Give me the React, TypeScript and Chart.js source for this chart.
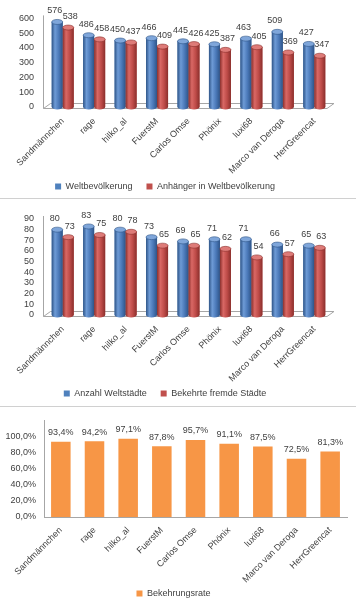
import React, { useEffect, useRef } from 'react';
import { Chart, registerables } from 'chart.js';
Chart.register(...registerables);

const players = ['Sandmännchen', 'rage', 'hilko_al', 'FuerstM', 'Carlos Omse', 'Phönix', 'luxi68', 'Marco van Deroga', 'HerrGreencat'];
const weltbevoelkerung = [576, 486, 450, 466, 445, 425, 463, 509, 427];
const anhaenger = [538, 458, 437, 409, 426, 387, 405, 369, 347];
const weltstaedte = [80, 83, 80, 73, 69, 71, 71, 66, 65];
const bekehrteStaedte = [73, 75, 78, 65, 65, 62, 54, 57, 63];
const bekehrungsrate = [0.934, 0.942, 0.971, 0.878, 0.957, 0.911, 0.875, 0.725, 0.813];

const FONT = '"Liberation Sans", Arial, sans-serif';
const TXT = '#404040';
const BLUE = '#4F81BD';
const RED = '#C0504D';
const ORANGE = '#F79646';
const blueShades = { dark: '#2E5487', light: '#6E9BD6', mid: '#4A78B8', top: '#7FA6DA' };
const redShades = { dark: '#8A2F2C', light: '#D96865', mid: '#BE4B48', top: '#DE7B78' };

const fmtPct = (v: number) => (v * 100).toFixed(1).replace('.', ',') + '%';

const floor3d = {
  id: 'floor3d',
  beforeDatasetsDraw(chart: any, _a: any, opts: any) {
    if (!opts || !opts.enabled) return;
    const { left, right, top, bottom } = chart.chartArea;
    const ctx = chart.ctx;
    ctx.save();
    ctx.strokeStyle = '#A6A6A6';
    ctx.lineWidth = 1;
    const x0 = Math.round(left - 4) + 0.5;
    const yb = Math.round(bottom + 1) + 0.5;
    ctx.beginPath();
    ctx.moveTo(x0, top - 3);
    ctx.lineTo(x0, yb);
    ctx.lineTo(right - 3, yb);
    ctx.lineTo(right + 4, yb - 5);
    ctx.lineTo(x0 + 7, yb - 5);
    ctx.lineTo(x0, yb);
    ctx.stroke();
    ctx.restore();
  },
};

const cylinders = {
  id: 'cylinders',
  afterDatasetsDraw(chart: any, _a: any, opts: any) {
    if (!opts || !opts.enabled) return;
    const ctx = chart.ctx;
    chart.data.datasets.forEach((_ds: any, di: number) => {
      const meta = chart.getDatasetMeta(di);
      const sh = opts.shades[di];
      meta.data.forEach((el: any) => {
        const { x, y, base, width } = el.getProps(['x', 'y', 'base', 'width'], true);
        const l = x - width / 2;
        const r = x + width / 2;
        const ry = opts.ry;
        const g = ctx.createLinearGradient(l, 0, r, 0);
        g.addColorStop(0, sh.dark);
        g.addColorStop(0.3, sh.light);
        g.addColorStop(0.65, sh.mid);
        g.addColorStop(1, sh.dark);
        ctx.save();
        ctx.fillStyle = g;
        ctx.beginPath();
        ctx.moveTo(l, y);
        ctx.lineTo(l, base);
        ctx.ellipse(x, base, width / 2, ry, 0, Math.PI, 0, true);
        ctx.lineTo(r, y);
        ctx.closePath();
        ctx.fill();
        ctx.beginPath();
        ctx.ellipse(x, y, width / 2, ry, 0, 0, Math.PI * 2);
        ctx.fillStyle = sh.top;
        ctx.fill();
        ctx.strokeStyle = sh.dark;
        ctx.lineWidth = 0.6;
        ctx.stroke();
        ctx.restore();
      });
    });
  },
};

const valueLabels = {
  id: 'valueLabels',
  afterDatasetsDraw(chart: any, _a: any, opts: any) {
    if (!opts || !opts.fmt) return;
    const ctx = chart.ctx;
    ctx.save();
    ctx.font = `9px ${FONT}`;
    ctx.fillStyle = TXT;
    ctx.textAlign = 'center';
    ctx.textBaseline = 'middle';
    chart.data.datasets.forEach((ds: any, di: number) => {
      const meta = chart.getDatasetMeta(di);
      const dx = opts.dx ? opts.dx[di] : 0;
      meta.data.forEach((el: any, i: number) => {
        ctx.fillText(opts.fmt(ds.data[i]), el.x + dx, el.y - opts.offset);
      });
    });
    ctx.restore();
  },
};

const xFit = (h: number) => (s: any) => {
  s.height = h;
  s._computeLabelArea = () => undefined;
};

function cylConfig(l1: string, d1: number[], l2: string, d2: number[], max: number, step: number, padTop: number, xHeight: number, dx: number[]) {
  return {
    type: 'bar',
    data: {
      labels: players,
      datasets: [
        { label: l1, data: d1, backgroundColor: BLUE, borderWidth: 0, barPercentage: 1, categoryPercentage: 0.7 },
        { label: l2, data: d2, backgroundColor: RED, borderWidth: 0, barPercentage: 1, categoryPercentage: 0.7 },
      ],
    },
    options: {
      animation: false,
      responsive: false,
      events: [],
      layout: { padding: { top: padTop, right: 26, left: 0, bottom: 0 } },
      scales: {
        x: {
          grid: { display: false, drawTicks: false },
          border: { display: false },
          ticks: { minRotation: 45, maxRotation: 45, autoSkip: false, padding: 9, color: TXT, font: { family: FONT, size: 9 } },
          afterFit: xFit(xHeight),
        },
        y: {
          min: 0,
          max,
          grid: { display: false, drawTicks: false },
          border: { display: false },
          ticks: { stepSize: step, autoSkip: false, padding: 13, color: TXT, font: { family: FONT, size: 9 } },
          afterFit: (s: any) => { s.width = 47; },
        },
      },
      plugins: {
        legend: {
          position: 'bottom',
          labels: { boxWidth: 6, boxHeight: 6, padding: 14, color: TXT, font: { family: FONT, size: 9 } },
        },
        tooltip: { enabled: false },
        floor3d: { enabled: true },
        cylinders: { enabled: true, ry: 2.5, shades: [blueShades, redShades] },
        valueLabels: { fmt: (v: number) => String(v), offset: 11, dx },
      },
    },
    plugins: [floor3d, cylinders, valueLabels],
  };
}

function rateConfig() {
  return {
    type: 'bar',
    data: {
      labels: players,
      datasets: [
        { label: 'Bekehrungsrate', data: bekehrungsrate, backgroundColor: ORANGE, borderWidth: 0, barPercentage: 0.58, categoryPercentage: 1 },
      ],
    },
    options: {
      animation: false,
      responsive: false,
      events: [],
      layout: { padding: { top: 8.5, right: 9, left: 0, bottom: 0 } },
      scales: {
        x: {
          grid: { display: false, drawTicks: false },
          border: { display: true, color: '#A6A6A6' },
          ticks: { minRotation: 45, maxRotation: 45, autoSkip: false, padding: 8, color: TXT, font: { family: FONT, size: 9 } },
          afterFit: xFit(58),
        },
        y: {
          min: 0,
          max: 1.2,
          grid: { display: false, drawTicks: false },
          border: { display: true, color: '#A6A6A6' },
          ticks: {
            stepSize: 0.2,
            autoSkip: false,
            padding: 8,
            color: TXT,
            font: { family: FONT, size: 9 },
            callback: (v: number) => (v > 1.01 ? '' : fmtPct(v)),
          },
          afterFit: (s: any) => { s.width = 44; },
        },
      },
      plugins: {
        legend: {
          position: 'bottom',
          labels: { boxWidth: 6, boxHeight: 6, padding: 14, color: TXT, font: { family: FONT, size: 9 } },
        },
        tooltip: { enabled: false },
        valueLabels: { fmt: fmtPct, offset: 9 },
      },
    },
    plugins: [valueLabels],
  };
}

function ChartBox({ top, height, make }: { top: number; height: number; make: () => any }) {
  const ref = useRef<HTMLCanvasElement | null>(null);
  useEffect(() => {
    if (!ref.current) return;
    const c = new Chart(ref.current, make());
    return () => c.destroy();
  }, []);
  return (
    <div style={{ position: 'absolute', left: 0, top, width: 356, height }}>
      <canvas ref={ref} width={356} height={height} style={{ display: 'block' }} />
    </div>
  );
}

export default function App() {
  return (
    <div style={{ position: 'absolute', left: 0, top: 0, width: 356, height: 600, background: '#fff', overflow: 'hidden' }}>
      <ChartBox top={0} height={201} make={() => cylConfig('Weltbevölkerung', weltbevoelkerung, 'Anhänger in Weltbevölkerung', anhaenger, 600, 100, 17.5, 61, [-2.5, 2])} />
      <ChartBox top={200} height={208} make={() => cylConfig('Anzahl Weltstädte', weltstaedte, 'Bekehrte fremde Städte', bekehrteStaedte, 90, 10, 19, 60, [-2.5, 1.5])} />
      <ChartBox top={407} height={201} make={rateConfig} />
      <div style={{ position: 'absolute', left: 0, top: 198, width: 356, height: 1, background: '#D0D0D0' }} />
      <div style={{ position: 'absolute', left: 0, top: 406, width: 356, height: 1, background: '#D0D0D0' }} />
    </div>
  );
}
